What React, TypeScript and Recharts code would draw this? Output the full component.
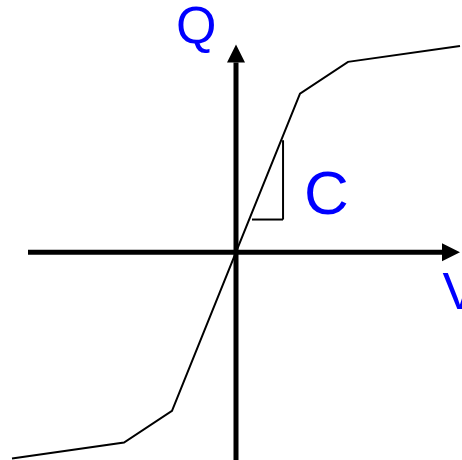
import { LineChart, Line, XAxis, YAxis, ReferenceLine, ReferenceDot } from "recharts";

// Q–V curve, piecewise linear, symmetric around the origin
const voltage = [-14, -7, -4, 0, 4, 7, 14];
const charge = [-13, -12, -10, 0, 10, 12, 13];

const data = voltage.map((v, i) => ({ v, q: charge[i] }));

const xDomain: [number, number] = [-14.75, 14.125];
const yDomain: [number, number] = [-13.1, 15.9];

// axis extents (data units), arrow at the far end
const hAxis = [{ x: -13, y: 0 }, { x: 14, y: 0 }];
const vAxis = [{ x: 0, y: -13.1 }, { x: 0, y: 13.1 }];

// little slope triangle next to the curve
const slopeVertical = [{ x: 2.94, y: 7.06 }, { x: 2.94, y: 2.06 }];
const slopeHorizontal = [{ x: 1, y: 2.06 }, { x: 2.94, y: 2.06 }];

const labels = [
  { text: "Q", v: -3.75, q: 13.2, size: 52 },
  { text: "C", v: 4.25, q: 2.4, size: 62 },
  { text: "V", v: 12.9, q: -3.55, size: 52 },
];

const BLUE = "#0000ff";
const ARROW = 18;
const HALF = 9;

const ArrowAxis = (props: any) => {
  const { x1, y1, x2, y2 } = props;
  const dx = x2 - x1;
  const dy = y2 - y1;
  const len = Math.hypot(dx, dy) || 1;
  const ux = dx / len;
  const uy = dy / len;
  const bx = x2 - ux * ARROW;
  const by = y2 - uy * ARROW;
  const px = -uy * HALF;
  const py = ux * HALF;
  return (
    <g>
      <line x1={x1} y1={y1} x2={bx} y2={by} stroke="#000" strokeWidth={5} />
      <polygon
        points={`${x2},${y2} ${bx + px},${by + py} ${bx - px},${by - py}`}
        fill="#000"
      />
    </g>
  );
};

export default function App() {
  return (
    <div style={{ position: "absolute", left: 0, top: 0, background: "#fff" }}>
      <LineChart
        width={462}
        height={460}
        data={data}
        margin={{ top: 0, right: 0, bottom: 0, left: 0 }}
      >
        <XAxis type="number" dataKey="v" domain={xDomain} hide />
        <YAxis type="number" domain={yDomain} hide />
        <ReferenceLine segment={hAxis} shape={ArrowAxis} ifOverflow="visible" />
        <ReferenceLine segment={vAxis} shape={ArrowAxis} ifOverflow="visible" />
        <ReferenceLine segment={slopeVertical} stroke="#000" strokeWidth={2} ifOverflow="visible" />
        <ReferenceLine segment={slopeHorizontal} stroke="#000" strokeWidth={2} ifOverflow="visible" />
        <Line
          type="linear"
          dataKey="q"
          stroke="#000"
          strokeWidth={2}
          dot={false}
          activeDot={false}
          isAnimationActive={false}
        />
        {labels.map((l) => (
          <ReferenceDot
            key={l.text}
            x={l.v}
            y={l.q}
            r={0}
            ifOverflow="visible"
            shape={(p: any) => (
              <text
                x={p.cx}
                y={p.cy}
                fill={BLUE}
                fontSize={l.size}
                fontFamily="'Liberation Sans', Arial, sans-serif"
                textAnchor="start"
              >
                {l.text}
              </text>
            )}
          />
        ))}
      </LineChart>
    </div>
  );
}
